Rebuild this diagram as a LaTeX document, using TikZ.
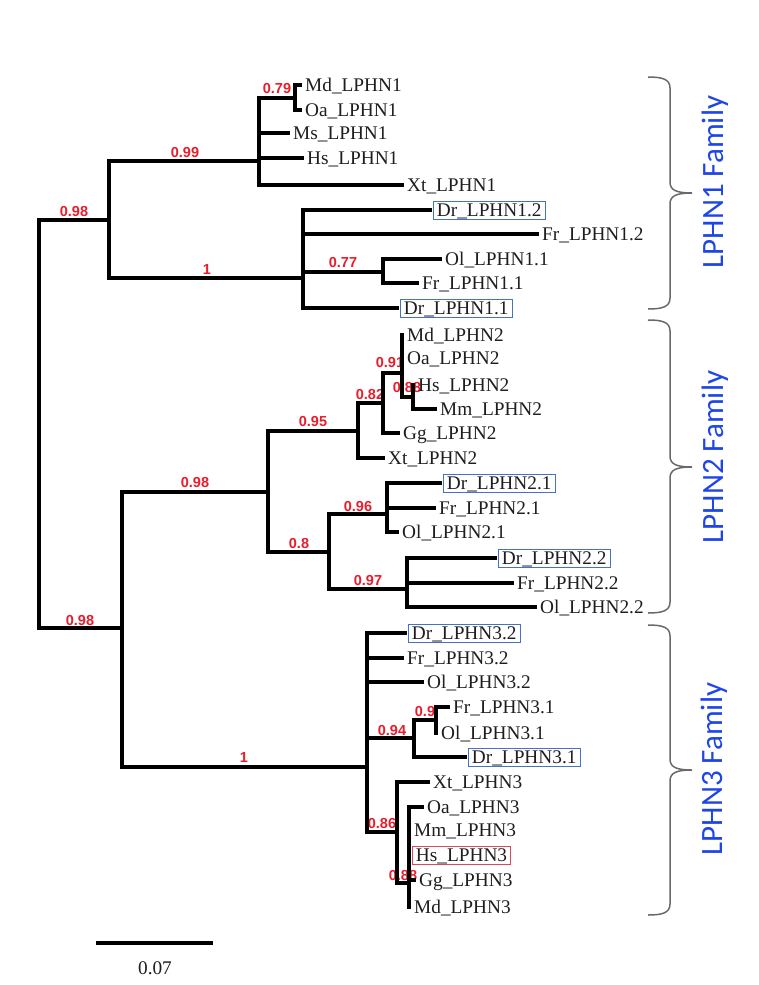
\documentclass[tikz,border=0pt]{standalone}
\usepackage{fontspec}
\setmainfont{Liberation Serif}
\newfontfamily\bootfont{Liberation Sans}
\newfontfamily\famfont{Carlito}
\definecolor{leafgray}{RGB}{30,30,30}
\definecolor{boxblue}{RGB}{68,114,196}
\definecolor{boxred}{RGB}{220,70,100}
\definecolor{bootred}{RGB}{232,30,45}
\definecolor{famblue}{RGB}{30,70,230}
\definecolor{bracegray}{RGB}{105,105,105}
\begin{document}
\begin{tikzpicture}[x=1pt,y=-1pt,
  hb/.style={line width=3.2pt, line join=miter, line cap=rect},
  vb/.style={line width=3.4pt, line cap=rect},
  leaf/.style={anchor=west, inner xsep=5pt, inner ysep=1pt, text height=14.4pt, text depth=1.6pt,
     font=\fontsize{19.3}{20}\selectfont, text=leafgray},
  leafbox/.style={leaf, draw=boxblue, line width=0.9pt, inner xsep=3.5pt},
  leafred/.style={leaf, draw=boxred, line width=0.9pt, inner xsep=3.5pt},
  bs/.style={font=\bootfont\bfseries\fontsize{14.5}{14.5}\selectfont, text=bootred, inner sep=0pt},
  fam/.style={font=\famfont\fontsize{31}{31}\selectfont, text=famblue, rotate=90, inner sep=0pt},
  brace/.style={draw=bracegray, line width=1.5pt}]
\fill[white] (0,0) rectangle (758,985);
\useasboundingbox (0,0) rectangle (758,985);

% ---------- bootstrap labels (drawn first, lines go over them)
\node[bs] (b1) at (74,212) {0.98};
\node[bs] (b2) at (185,153) {0.99};
\node[bs] (b3) at (207,270) {1};
\node[bs] (b4) at (277,89) {0.79};
\node[bs] (b5) at (343,263) {0.77};
\node[bs] (b6) at (80,621) {0.98};
\node[bs] (b7) at (195,483) {0.98};
\node[bs] (b8) at (313,422) {0.95};
\node[bs] (b9) at (299,544) {0.8};
\node[bs] (b10) at (370,395) {0.82};
\node[bs] (b11) at (390,363) {0.91};
\node[bs] (b12) at (407,388) {0.88};
\node[bs] (b13) at (358,507) {0.96};
\node[bs] (b14) at (368,581) {0.97};
\node[bs] (b15) at (244,758) {1};
\node[bs] (b16) at (392,730) {0.94};
\node[bs] (b17) at (425,711) {0.9};
\node[bs] (b18) at (382,823) {0.86};
\node[bs] (b19) at (403,875) {0.88};

% ---------- internal nodes
\coordinate (R) at (39,220);
\coordinate (L1) at (109,220);
\coordinate (L1a) at (259,161);
\coordinate (L1b) at (303,278);
\coordinate (n079) at (295,98);
\coordinate (n077) at (383,272);
\coordinate (R2) at (122,628);
\coordinate (L2) at (268,492);
\coordinate (L3) at (367,767);
\coordinate (n095) at (358,431);
\coordinate (n08) at (329,552);
\coordinate (n082) at (383,403);
\coordinate (n091) at (402,373);
\coordinate (n088) at (413,397);
\coordinate (n096) at (387,514);
\coordinate (n097) at (407,589);
\coordinate (n094) at (414,738);
\coordinate (n09) at (436,720);
\coordinate (n086) at (397,832);
\coordinate (n088b) at (409,883);

% ---------- leaves
\node[leaf] (md1) at (300,85) {Md\_LPHN1};
\node[leaf] (oa1) at (300,110) {Oa\_LPHN1};
\node[leaf] (ms1) at (288,133) {Ms\_LPHN1};
\node[leaf] (hs1) at (302,158) {Hs\_LPHN1};
\node[leaf] (xt1) at (402,185) {Xt\_LPHN1};
\node[leafbox] (dr12) at (433,210) {Dr\_LPHN1.2};
\node[leaf] (fr12) at (537,234) {Fr\_LPHN1.2};
\node[leaf] (ol11) at (440,259) {Ol\_LPHN1.1};
\node[leaf] (fr11) at (417,283) {Fr\_LPHN1.1};
\node[leafbox] (dr11) at (400,308) {Dr\_LPHN1.1};

\node[leaf] (md2) at (402,335) {Md\_LPHN2};
\node[leaf] (oa2) at (402,358) {Oa\_LPHN2};
\node[leaf] (hs2) at (413,385) {Hs\_LPHN2};
\node[leaf] (mm2) at (435,409) {Mm\_LPHN2};
\node[leaf] (gg2) at (398,433) {Gg\_LPHN2};
\node[leaf] (xt2) at (383,458) {Xt\_LPHN2};
\node[leafbox] (dr21) at (443,483) {Dr\_LPHN2.1};
\node[leaf] (fr21) at (434,508) {Fr\_LPHN2.1};
\node[leaf] (ol21) at (397,532) {Ol\_LPHN2.1};
\node[leafbox] (dr22) at (498,558) {Dr\_LPHN2.2};
\node[leaf] (fr22) at (512,583) {Fr\_LPHN2.2};
\node[leaf] (ol22) at (535,607) {Ol\_LPHN2.2};

\node[leafbox] (dr32) at (408,633) {Dr\_LPHN3.2};
\node[leaf] (fr32) at (402,658) {Fr\_LPHN3.2};
\node[leaf] (ol32) at (422,682) {Ol\_LPHN3.2};
\node[leaf] (fr31) at (448,707) {Fr\_LPHN3.1};
\node[leaf] (ol31) at (436,733) {Ol\_LPHN3.1};
\node[leafbox] (dr31) at (468,757) {Dr\_LPHN3.1};
\node[leaf] (xt3) at (428,782) {Xt\_LPHN3};
\node[leaf] (oa3) at (422,807) {Oa\_LPHN3};
\node[leaf] (mm3) at (409,830) {Mm\_LPHN3};
\node[leafred] (hs3) at (412,855) {Hs\_LPHN3};
\node[leaf] (gg3) at (414,880) {Gg\_LPHN3};
\node[leaf] (md3) at (409,907) {Md\_LPHN3};

% ---------- branches
\draw[hb] (R) |- (L1);
\draw[hb] (R) |- (R2);
\draw[hb] (L1) |- (L1a);
\draw[hb] (L1) |- (L1b);
\draw[hb] (L1a) |- (n079);
\draw[hb] (L1a) |- (ms1.west);
\draw[hb] (L1a) |- (hs1.west);
\draw[hb] (L1a) |- (xt1.west);
\draw[hb] (n079) |- (md1.west);
\draw[hb] (n079) |- (oa1.west);
\draw[hb] (L1b) |- ([xshift=-3pt]dr12.west);
\draw[hb] (L1b) |- (fr12.west);
\draw[hb] (L1b) |- (n077);
\draw[hb] (L1b) |- ([xshift=-3pt]dr11.west);
\draw[hb] (n077) |- (ol11.west);
\draw[hb] (n077) |- (fr11.west);

\draw[hb] (R2) |- (L2);
\draw[hb] (R2) |- (L3);
\draw[hb] (L2) |- (n095);
\draw[hb] (L2) |- (n08);
\draw[hb] (n095) |- (n082);
\draw[hb] (n095) |- (xt2.west);
\draw[hb] (n082) |- (n091);
\draw[hb] (n082) |- (gg2.west);
\draw[hb] (n091) |- (md2.west);
\draw[hb] (n091) |- (n088);
\draw[hb] (n088) |- (hs2.west);
\draw[hb] (n088) |- (mm2.west);
\draw[hb] (n08) |- (n096);
\draw[hb] (n08) |- (n097);
\draw[hb] (n096) |- ([xshift=-3pt]dr21.west);
\draw[hb] (n096) |- (fr21.west);
\draw[hb] (n096) |- (ol21.west);
\draw[hb] (n097) |- ([xshift=-3pt]dr22.west);
\draw[hb] (n097) |- (fr22.west);
\draw[hb] (n097) |- (ol22.west);

\draw[hb] (L3) |- ([xshift=-3pt]dr32.west);
\draw[hb] (L3) |- (fr32.west);
\draw[hb] (L3) |- (ol32.west);
\draw[hb] (L3) |- (n094);
\draw[hb] (L3) |- (n086);
\draw[hb] (n094) |- (n09);
\draw[hb] (n094) |- ([xshift=-3pt]dr31.west);
\draw[hb] (n09) |- (fr31.west);
\draw[hb] (n09) |- (ol31.west);
\draw[hb] (n086) |- (xt3.west);
\draw[hb] (n086) |- (n088b);
\draw[hb] (n088b) |- (oa3.west);
\draw[hb] (n088b) |- (md3.west);
\draw[hb] (n088b) |- (gg3.west);

% ---------- thick verticals
\draw[vb] (R) -- (R |- R2);
\draw[vb] (L1a |- n079) -- (L1a |- xt1.west);
\draw[vb] (n079 |- md1.west) -- (n079 |- oa1.west);
\draw[vb] (L1b |- dr12.west) -- (L1b |- dr11.west);
\draw[vb] (n077 |- ol11.west) -- (n077 |- fr11.west);
\draw[vb] (R2 |- L2) -- (R2 |- L3);
\draw[vb] (L2 |- n095) -- (L2 |- n08);
\draw[vb] (n095 |- n082) -- (n095 |- xt2.west);
\draw[vb] (n082 |- n091) -- (n082 |- gg2.west);
\draw[vb] (n091 |- md2.west) -- (n091 |- n088);
\draw[vb] (n088 |- hs2.west) -- (n088 |- mm2.west);
\draw[vb] (n08 |- n096) -- (n08 |- n097);
\draw[vb] (n096 |- dr21.west) -- (n096 |- ol21.west);
\draw[vb] (n097 |- dr22.west) -- (n097 |- ol22.west);
\draw[vb] (L3 |- dr32.west) -- (L3 |- n086);
\draw[vb] (n094 |- n09) -- (n094 |- dr31.west);
\draw[vb] (n09 |- fr31.west) -- (n09 |- ol31.west);
\draw[vb] (n086 |- xt3.west) -- (n086 |- n088b);
\draw[vb] (n088b |- oa3.west) -- (n088b |- md3.west);

% ---------- scale bar
\coordinate (sbL) at (96,943);
\coordinate (sbR) at (213,943);
\draw[line width=3.4pt] (sbL) -- (sbR);
\node[font=\fontsize{19.3}{20}\selectfont, text=leafgray] (sbt) at (155,968) {0.07};

% ---------- braces
\foreach \yt/\ym/\yb in {77/193/309, 320/467/613, 625/770/915}{
  \draw[brace] (648,\yt) .. controls (662,\yt) and (670,\yt+2) .. (670,\yt+11)
     -- (670,\ym-11) .. controls (670,\ym-3) and (676,\ym) .. (692,\ym)
     .. controls (676,\ym) and (670,\ym+3) .. (670,\ym+11)
     -- (670,\yb-11) .. controls (670,\yb-2) and (662,\yb) .. (648,\yb);
}
\node[fam] (f1) at (715,182) {LPHN1 Family};
\node[fam] (f2) at (715,457) {LPHN2 Family};
\node[fam] (f3) at (714,769) {LPHN3 Family};
\end{tikzpicture}
\end{document}
